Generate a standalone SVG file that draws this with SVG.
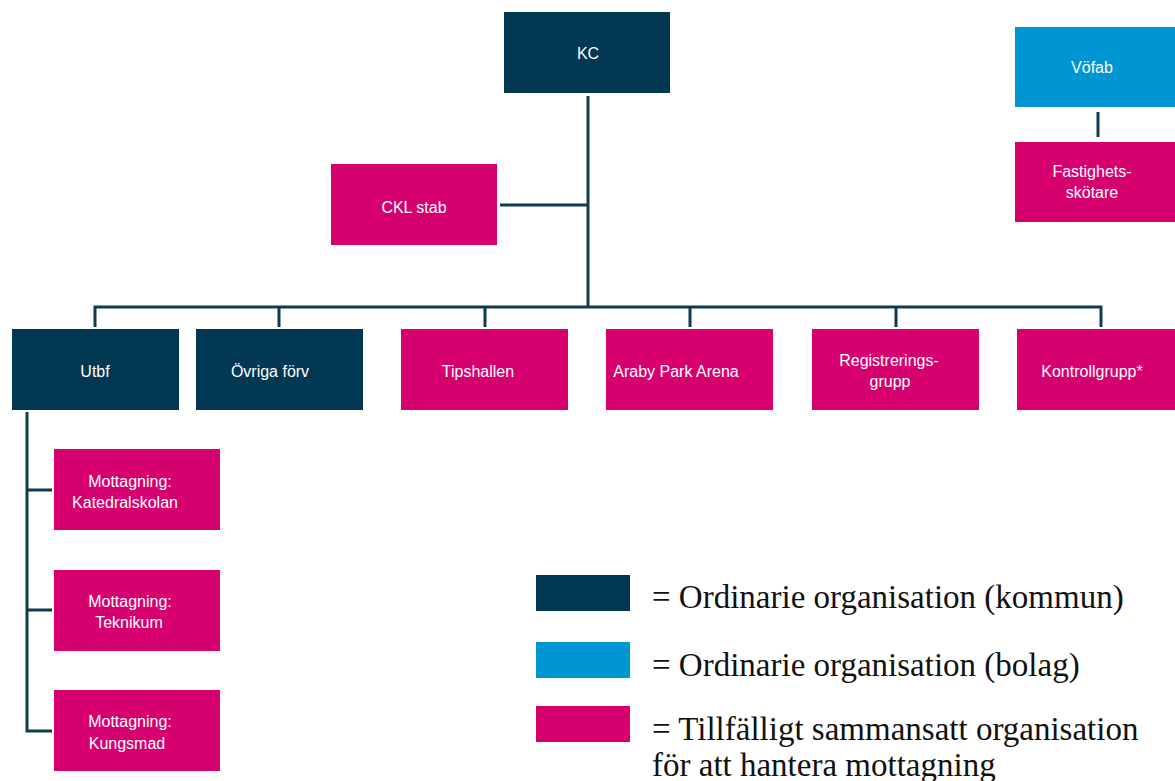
<svg xmlns="http://www.w3.org/2000/svg" width="1175" height="781" viewBox="0 0 1175 781">
<style>
.navy{fill:#023852}
.blue{fill:#0096D3}
.mag{fill:#D6006F}
.t{font-family:"Liberation Sans","Noto Sans",sans-serif;font-size:16px;fill:#ffffff;text-anchor:middle}
.lg{font-family:"Liberation Serif","DejaVu Serif",serif;font-size:33px;fill:#111111}
.c{stroke:#0F3A4F;stroke-width:3;fill:none}
</style>
<rect width="1175" height="781" fill="#ffffff"/>
<g id="connectors">
<path class="c" d="M588,96 V307"/>
<path class="c" d="M500,205 H588"/>
<path class="c" d="M95,327 V307 H1101 V327"/>
<path class="c" d="M279,307 V327 M485,307 V327 M690,307 V327 M896,307 V327"/>
<path class="c" d="M1098,112 V137"/>
<path class="c" d="M27,412 V731 H52 M27,490 H52 M27,610 H52"/>
</g>
<g id="kc"><rect class="navy" x="504" y="12" width="166" height="81"/><text class="t" x="588" y="59">KC</text></g>
<g id="ckl"><rect class="mag" x="331" y="164" width="166" height="81"/><text class="t" x="414" y="213">CKL stab</text></g>
<g id="vofab"><rect class="blue" x="1015" y="27" width="160" height="80"/><text class="t" x="1092" y="73">Vöfab</text></g>
<g id="fastighet"><rect class="mag" x="1015" y="142" width="160" height="80"/><text class="t" x="1092" y="177">Fastighets-</text><text class="t" x="1092" y="198">skötare</text></g>
<g id="utbf"><rect class="navy" x="12" y="329" width="167" height="81"/><text class="t" x="95" y="377">Utbf</text></g>
<g id="ovriga"><rect class="navy" x="196" y="329" width="167" height="81"/><text class="t" x="270" y="377">Övriga förv</text></g>
<g id="tipshallen"><rect class="mag" x="401" y="329" width="167" height="81"/><text class="t" x="478" y="377">Tipshallen</text></g>
<g id="araby"><rect class="mag" x="606" y="329" width="167" height="81"/><text class="t" x="676" y="377">Araby Park Arena</text></g>
<g id="registrering"><rect class="mag" x="812" y="329" width="167" height="81"/><text class="t" x="889" y="366">Registrerings-</text><text class="t" x="890" y="387">grupp</text></g>
<g id="kontroll"><rect class="mag" x="1017" y="329" width="158" height="81"/><text class="t" x="1092" y="377">Kontrollgrupp*</text></g>
<g id="katedral"><rect class="mag" x="54" y="449" width="166" height="81"/><text class="t" x="130" y="487">Mottagning:</text><text class="t" x="125" y="508">Katedralskolan</text></g>
<g id="teknikum"><rect class="mag" x="54" y="570" width="166" height="81"/><text class="t" x="130" y="607">Mottagning:</text><text class="t" x="129" y="628">Teknikum</text></g>
<g id="kungsmad"><rect class="mag" x="54" y="690" width="166" height="81"/><text class="t" x="130" y="727">Mottagning:</text><text class="t" x="127" y="749">Kungsmad</text></g>
<g id="legend">
<rect class="navy" x="536" y="575" width="94" height="36"/>
<rect class="blue" x="536" y="642" width="94" height="36"/>
<rect class="mag" x="536" y="706" width="94" height="36"/>
<text class="lg" x="652" y="608">= Ordinarie organisation (kommun)</text>
<text class="lg" x="652" y="676">= Ordinarie organisation (bolag)</text>
<text class="lg" x="652" y="740">= Tillfälligt sammansatt organisation</text>
<text class="lg" x="652" y="776">för att hantera mottagning</text>
</g>
</svg>
